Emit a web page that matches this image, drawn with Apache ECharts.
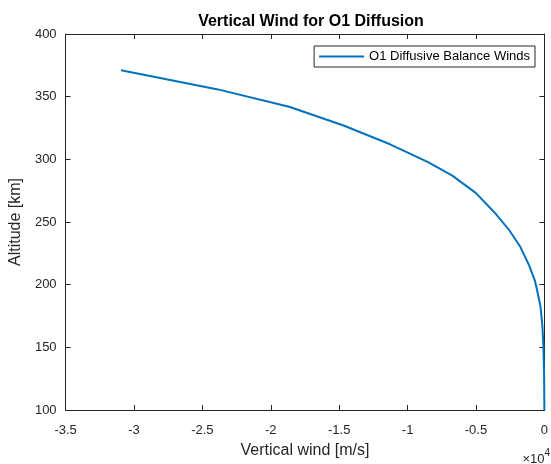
<!DOCTYPE html>
<html><head><meta charset="utf-8">
<script src="https://cdn.jsdelivr.net/npm/echarts@6/dist/echarts.min.js"></script>
<style>html,body{margin:0;padding:0;background:#fff}#c{width:551px;height:464px}</style>
</head><body><div id="c"></div>
<script>
const altitude = [100, 128, 151, 167, 183, 198, 203, 215, 230, 244, 258, 273, 287, 298, 312, 327, 342, 356, 371];
const wind = [0, -20, -70, -145, -290, -580, -690, -1100, -1750, -2600, -3680, -5000, -6730, -8540, -11280, -14680, -18660, -23950, -30950];
const seriesName = 'O1 Diffusive Balance Winds';
const xTicks = [-3.5, -3, -2.5, -2, -1.5, -1, -0.5, 0];
const yTicks = [100, 150, 200, 250, 300, 350, 400];

const axisColor = '#262626';
const font = 'Liberation Sans, Arial, Helvetica, sans-serif';
const data = altitude.map((a, i) => [wind[i], a]);

const chart = echarts.init(document.getElementById('c'), null, {renderer: 'canvas'});
function common() {
  return {
    axisLine: {show: true, onZero: false, lineStyle: {color: axisColor, width: 1}},
    axisTick: {show: true, inside: true, length: 5, lineStyle: {color: axisColor}},
    splitLine: {show: false}
  };
}
chart.setOption({
  animation: false,
  backgroundColor: '#fff',
  title: {
    text: 'Vertical Wind for O1 Diffusion', left: 306, top: 9, textAlign: 'center',
    textStyle: {fontFamily: font, fontSize: 16, fontWeight: 'bold', color: '#000'}
  },
  grid: {left: 64, right: 3, top: 34, bottom: 49, containLabel: false},
  legend: {
    data: [seriesName], right: 16, top: 46,
    itemWidth: 45, itemHeight: 2, itemGap: 4,
    icon: 'rect',
    borderColor: axisColor, borderWidth: 1, padding: [4, 5, 4, 5],
    backgroundColor: '#fff',
    textStyle: {fontFamily: font, fontSize: 13, color: '#000'}
  },
  xAxis: [
    Object.assign({
      type: 'value', min: -35000, max: 0, interval: 5000,
      name: 'Vertical wind [m/s]', nameLocation: 'middle', nameGap: 33,
      nameTextStyle: {fontFamily: font, fontSize: 16, color: axisColor},
      axisLabel: {fontFamily: font, fontSize: 13, color: axisColor, margin: 14,
        formatter: v => String(+(v / 10000).toFixed(1))}
    }, common()),
    Object.assign({
      type: 'value', min: -35000, max: 0, interval: 5000, position: 'top',
      axisLabel: {show: false}
    }, common())
  ],
  yAxis: [
    Object.assign({
      type: 'value', min: 100, max: 400, interval: 50,
      name: 'Altitude [km]', nameLocation: 'middle', nameGap: 35,
      nameTextStyle: {fontFamily: font, fontSize: 16, color: axisColor},
      axisLabel: {fontFamily: font, fontSize: 13, color: axisColor, margin: 9}
    }, common()),
    Object.assign({
      type: 'value', min: 100, max: 400, interval: 50, position: 'right',
      axisLabel: {show: false}
    }, common())
  ],
  graphic: [{
    type: 'text', right: 1, top: 448,
    style: {
      text: '{a|×10}{b|4}',
      rich: {
        a: {fontFamily: font, fontSize: 13, fill: axisColor, padding: [7, 0, 0, 0]},
        b: {fontFamily: font, fontSize: 10, fill: axisColor, padding: [0, 0, 5, 0]}
      }
    }
  }],
  series: [{
    name: seriesName, type: 'line', data: data, showSymbol: false, smooth: false,
    lineStyle: {color: '#0072BD', width: 2}, itemStyle: {color: '#0072BD'}
  }]
});
</script></body></html>
